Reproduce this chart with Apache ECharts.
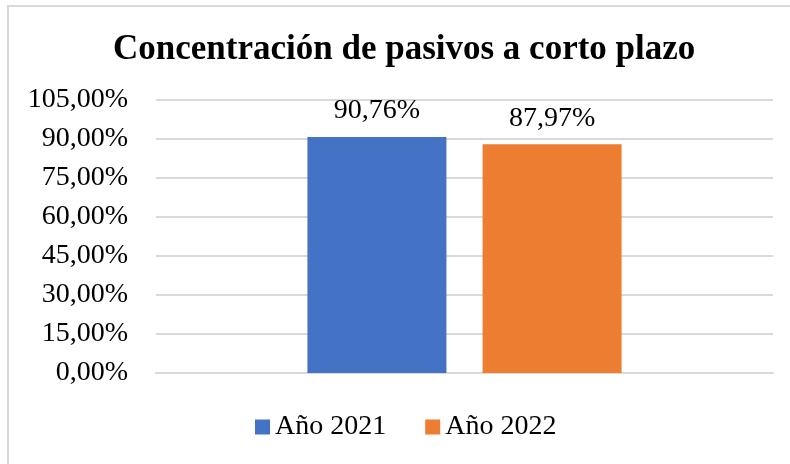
<!DOCTYPE html>
<html lang="es">

<head>
    <meta charset="UTF-8">
    <title>Concentración de pasivos a corto plazo</title>
    <script src="https://cdn.jsdelivr.net/npm/echarts@6/dist/echarts.min.js"></script>
    <style>
        html, body { margin: 0; padding: 0; background: #fff; }
        #chart { width: 790px; height: 464px; }
    </style>
</head>

<body>
    <div id="chart"></div>
    <script>
        // datos
        var categorias = [''];
        var anio2021 = [90.76];
        var anio2022 = [87.97];
        var nombres = ['Año 2021', 'Año 2022'];
        var colores = ['#4472C4', '#ED7D31'];

        var fuente = "'Liberation Serif', 'Times New Roman', serif";

        function pct(v) {
            return v.toFixed(2).replace('.', ',') + '%';
        }

        var chart = echarts.init(document.getElementById('chart'));
        chart.setOption({
            animation: false,
            textStyle: { fontFamily: fuente },
            graphic: [{
                type: 'rect',
                shape: { x: 8, y: 6, width: 800, height: 500 },
                style: { fill: 'none', stroke: '#d9d9d9', lineWidth: 2 },
                silent: true
            }],
            title: {
                text: 'Concentración de pasivos a corto plazo',
                left: 113,
                top: 32,
                padding: 0,
                textStyle: {
                    fontFamily: fuente,
                    fontSize: 35,
                    fontWeight: 'bold',
                    color: '#000'
                }
            },
            legend: {
                left: 255,
                top: 413,
                padding: 0,
                itemWidth: 15,
                itemHeight: 15,
                itemGap: 39,
                icon: 'rect',
                textStyle: { fontFamily: fuente, fontSize: 28, color: '#000' },
                data: nombres
            },
            grid: {
                left: 156,
                right: 17,
                top: 100,
                bottom: 91
            },
            xAxis: {
                type: 'category',
                data: categorias,
                axisLine: { lineStyle: { color: '#d9d9d9', width: 2 } },
                axisTick: { show: false },
                axisLabel: { show: false }
            },
            yAxis: {
                type: 'value',
                min: 0,
                max: 105,
                interval: 15,
                axisLine: { show: false },
                axisTick: { show: false },
                axisLabel: {
                    margin: 28,
                    fontFamily: fuente,
                    fontSize: 28,
                    color: '#000',
                    formatter: pct
                },
                splitLine: { lineStyle: { color: '#d9d9d9', width: 2 } }
            },
            series: [{
                name: nombres[0],
                type: 'bar',
                data: anio2021,
                barWidth: 139,
                barGap: '26%',
                itemStyle: { color: colores[0] },
                label: {
                    show: true,
                    position: 'top',
                    distance: 12,
                    fontFamily: fuente,
                    fontSize: 28,
                    color: '#000',
                    formatter: function (p) { return pct(p.value); }
                }
            }, {
                name: nombres[1],
                type: 'bar',
                data: anio2022,
                barWidth: 139,
                barGap: '26%',
                itemStyle: { color: colores[1] },
                label: {
                    show: true,
                    position: 'top',
                    distance: 12,
                    fontFamily: fuente,
                    fontSize: 28,
                    color: '#000',
                    formatter: function (p) { return pct(p.value); }
                }
            }]
        });
    </script>
</body>

</html>
